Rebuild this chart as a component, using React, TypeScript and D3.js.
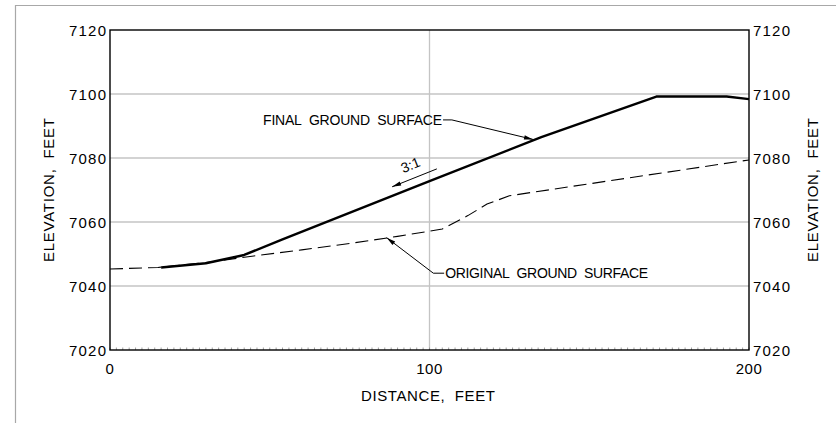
import React from "react";
import * as d3 from "d3";

const W = 836;
const H = 423;

// Data (distance ft, elevation ft)
const finalDistance = [16, 30, 42, 54, 100, 135, 171, 193, 200];
const finalElevation = [7045.8, 7047.1, 7049.7, 7054.6, 7072.8, 7086.5, 7099.2, 7099.2, 7098.4];

const originalDistance = [0, 15, 30, 45, 60, 75, 90, 104, 112, 118, 125, 200];
const originalElevation = [7045.3, 7045.8, 7047.3, 7049.4, 7051.3, 7053.3, 7055.5, 7057.8, 7062, 7065.6, 7068.2, 7079.4];

const yTicks = [7020, 7040, 7060, 7080, 7100, 7120];
const xTicks = [0, 100, 200];
const xMinorStep = 2;

const NB = "\u00A0\u00A0";
const xTitle = `DISTANCE,${NB}FEET`;
const yTitle = `ELEVATION,${NB}FEET`;

// Annotations in data coordinates
const finalLabel = { text: `FINAL${NB}GROUND${NB}SURFACE`, d: 47.9, e: 7091.9, kneeD: 107, tipD: 132.4, tipE: 7085.8 };
const originalLabel = { text: `ORIGINAL${NB}GROUND${NB}SURFACE`, d: 104.9, e: 7044, kneeD: 101.2, tipD: 86.6, tipE: 7055.1 };
const slopeLabel = { text: "3:1", d: 94.6, e: 7076.4, fromD: 102.3, fromE: 7076.6, toD: 88.3, toE: 7071.0 };

const FONT = "'Liberation Sans', Arial, sans-serif";

export default function App() {
  const x = d3.scaleLinear().domain([0, 200]).range([110, 749]);
  const y = d3.scaleLinear().domain([7020, 7120]).range([350, 30]);

  const line = d3
    .line<[number, number]>()
    .x((p) => x(p[0]))
    .y((p) => y(p[1]));

  const finalPts = finalDistance.map((d, i) => [d, finalElevation[i]] as [number, number]);
  const origPts = originalDistance.map((d, i) => [d, originalElevation[i]] as [number, number]);

  const minor = d3.range(0, 200 + 0.001, xMinorStep);

  const arrowHead = (tx: number, ty: number, fx: number, fy: number, len = 9, wid = 2.2) => {
    const a = Math.atan2(ty - fy, tx - fx);
    const bx = tx - len * Math.cos(a);
    const by = ty - len * Math.sin(a);
    const px = -Math.sin(a) * wid;
    const py = Math.cos(a) * wid;
    return `M${tx},${ty}L${bx + px},${by + py}L${bx - px},${by - py}Z`;
  };

  const fTextY = y(finalLabel.e);
  const fKneeX = x(finalLabel.kneeD);
  const fTipX = x(finalLabel.tipD);
  const fTipY = y(finalLabel.tipE);
  const fTextW = 179;

  const oTextY = y(originalLabel.e);
  const oKneeX = x(originalLabel.kneeD);
  const oTipX = x(originalLabel.tipD);
  const oTipY = y(originalLabel.tipE);
  const oTextW = 203;

  const sFx = x(slopeLabel.fromD);
  const sFy = y(slopeLabel.fromE);
  const sTx = x(slopeLabel.toD);
  const sTy = y(slopeLabel.toE);
  const sAngle = (Math.atan2(sFy - sTy, sFx - sTx) * 180) / Math.PI;

  return (
    <svg
      width={W}
      height={H}
      style={{ position: "absolute", left: 0, top: 0, background: "#fff" }}
      fontFamily={FONT}
    >
      <rect width={W} height={H} fill="#fff" />
      {/* outer frame */}
      <line x1={15} y1={5.5} x2={W} y2={5.5} stroke="#a8a8a8" strokeWidth={1.2} />
      <line x1={15.5} y1={5} x2={15.5} y2={H} stroke="#a8a8a8" strokeWidth={1.2} />

      {/* grid */}
      {yTicks
        .filter((t) => t !== 7020 && t !== 7120)
        .map((t) => (
          <line key={t} x1={x(0)} x2={x(200)} y1={y(t)} y2={y(t)} stroke="#c4c4c4" strokeWidth={1.3} />
        ))}
      <line x1={x(100)} x2={x(100)} y1={y(7120)} y2={y(7020)} stroke="#c4c4c4" strokeWidth={1.3} />

      {/* minor ticks */}
      {minor.map((m) => (
        <line key={m} x1={x(m)} x2={x(m)} y1={y(7020)} y2={y(7020) - 2.5} stroke="#888" strokeWidth={0.8} />
      ))}

      {/* plot border */}
      <rect
        x={x(0)}
        y={y(7120)}
        width={x(200) - x(0)}
        height={y(7020) - y(7120)}
        fill="none"
        stroke="#000"
        strokeWidth={1.4}
      />

      {/* original ground */}
      <path d={line(origPts) || ""} fill="none" stroke="#000" strokeWidth={1.1} strokeDasharray="13 6" />
      {/* final ground */}
      <path d={line(finalPts) || ""} fill="none" stroke="#000" strokeWidth={2.4} strokeLinejoin="round" />

      {/* y tick labels */}
      {yTicks.map((t) => (
        <g key={t} fontSize={15} fill="#000">
          <text x={106} y={y(t) + 5.5} textAnchor="end" textLength={37} lengthAdjust="spacing">
            {t}
          </text>
          <text x={753} y={y(t) + 5.5} textAnchor="start" textLength={37} lengthAdjust="spacing">
            {t}
          </text>
        </g>
      ))}
      {/* x tick labels */}
      {xTicks.map((t) => (
        <text key={t} x={x(t)} y={373.5} textAnchor="middle" fontSize={15} letterSpacing={0.5}>
          {t}
        </text>
      ))}

      {/* axis titles */}
      <text x={428} y={401} textAnchor="middle" fontSize={15} textLength={134} lengthAdjust="spacing">
        {xTitle}
      </text>
      <text
        transform={`translate(54,190) rotate(-90)`}
        textAnchor="middle"
        fontSize={15}
        textLength={144}
        lengthAdjust="spacing"
      >
        {yTitle}
      </text>
      <text
        transform={`translate(818,190) rotate(-90)`}
        textAnchor="middle"
        fontSize={15}
        textLength={144}
        lengthAdjust="spacing"
      >
        {yTitle}
      </text>

      {/* final label */}
      <text x={x(finalLabel.d)} y={fTextY + 5} fontSize={14} textLength={fTextW} lengthAdjust="spacing">
        {finalLabel.text}
      </text>
      <path
        d={`M${x(finalLabel.d) + fTextW + 1},${fTextY}L${fKneeX},${fTextY}L${fTipX},${fTipY}`}
        fill="none"
        stroke="#000"
        strokeWidth={1}
      />
      <path d={arrowHead(fTipX, fTipY, fKneeX, fTextY)} fill="#000" />

      {/* original label */}
      <text x={x(originalLabel.d)} y={oTextY + 5} fontSize={14} textLength={oTextW} lengthAdjust="spacing">
        {originalLabel.text}
      </text>
      <path
        d={`M${x(originalLabel.d) - 1},${oTextY}L${oKneeX},${oTextY}L${oTipX},${oTipY}`}
        fill="none"
        stroke="#000"
        strokeWidth={1}
      />
      <path d={arrowHead(oTipX, oTipY, oKneeX, oTextY)} fill="#000" />

      {/* slope label */}
      <path d={`M${sFx},${sFy}L${sTx},${sTy}`} stroke="#000" strokeWidth={1} fill="none" />
      <path d={arrowHead(sTx, sTy, sFx, sFy)} fill="#000" />
      <text
        transform={`translate(${x(slopeLabel.d)},${y(slopeLabel.e)}) rotate(${sAngle})`}
        textAnchor="middle"
        fontSize={14}
      >
        {slopeLabel.text}
      </text>
    </svg>
  );
}
